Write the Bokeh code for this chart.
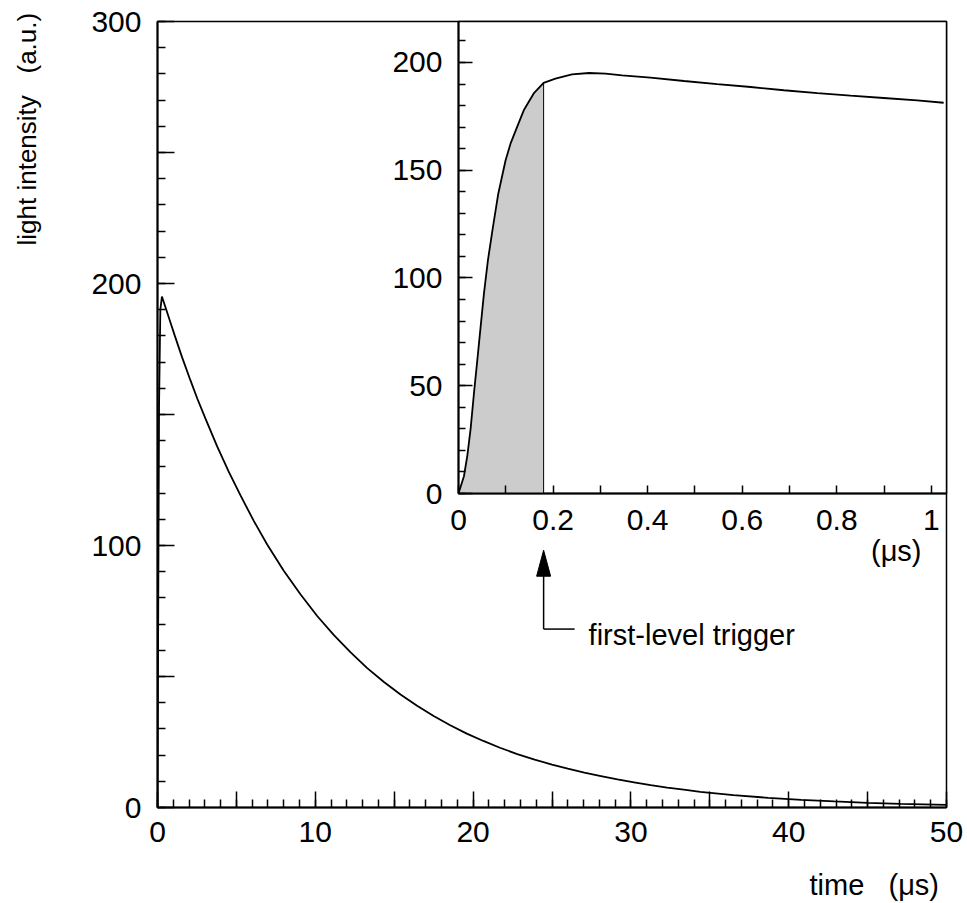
import numpy as np
from bokeh.plotting import figure
from bokeh.models import FixedTicker, Range1d, Label, Title
from bokeh.layouts import column
from bokeh.embed import file_html
from bokeh.resources import INLINE

# ---------------- data ----------------
main_time_us = [0, 0.05, 0.1, 0.18, 0.28, 0.5, 0.8, 1.1, 1.56, 2.09, 2.52, 3.04, 3.78,
                4.52, 5.26, 6.1, 6.95, 8.0, 9.07, 10.12, 11.18, 12.24, 13.29, 14.35,
                15.4, 16.45, 17.5, 18.55, 19.6, 20.65, 21.7, 22.8, 23.9, 25.0, 26.0,
                27.05, 28.1, 29.15, 30.2, 31.25, 32.3, 33.35, 34.4, 36.5, 38.7, 40.8,
                42.9, 45.0, 47.1, 50.0]
main_intensity = [0, 82, 154, 190, 195, 191, 185.5, 180, 171.8, 163.0, 156.1, 148.4,
                  137.8, 128.1, 119.1, 109.4, 100.4, 90.4, 81.3, 73.1, 65.8, 59.2,
                  53.2, 47.9, 43.1, 38.8, 34.9, 31.4, 28.2, 25.4, 22.8, 20.4, 18.3,
                  16.4, 14.8, 13.3, 12.0, 10.7, 9.6, 8.5, 7.6, 6.8, 6.0, 4.7, 3.7,
                  2.9, 2.3, 1.8, 1.4, 1.0]

inset_time_us = [0, 0.0115, 0.0186, 0.0256, 0.0326, 0.0397, 0.0467, 0.0538, 0.0622,
                 0.0728, 0.0841, 0.0996, 0.110, 0.124, 0.138, 0.159, 0.18, 0.205,
                 0.240, 0.276, 0.311, 0.346, 0.406, 0.477, 0.547, 0.618, 0.688,
                 0.759, 0.829, 0.899, 0.970, 1.026]
inset_intensity = [0, 8, 17.5, 30, 46.3, 61.7, 77.2, 92.7, 108.2, 123.6, 139.1,
                   154.6, 162.3, 170.1, 177.8, 185.6, 190.5, 192.5, 194.5, 195.1,
                   194.8, 194.0, 193.0, 191.4, 189.9, 188.6, 187.1, 185.8, 184.6,
                   183.5, 182.4, 181.3]

trigger_time_us = 0.18

main_x_ticks = [0, 5, 10, 15, 20, 25, 30, 35, 40, 45, 50]
main_x_tick_labels = ["0", "", "10", "", "20", "", "30", "", "40", "", "50"]
main_x_minor = list(range(0, 51))
main_y_ticks = [0, 50, 100, 150, 200, 250, 300]
main_y_tick_labels = ["0", "", "100", "", "200", "", "300"]
main_y_minor = list(range(0, 301, 10))

inset_x_ticks = [0, 0.1, 0.2, 0.3, 0.4, 0.5, 0.6, 0.7, 0.8, 0.9, 1]
inset_x_tick_labels = ["0", "", "0.2", "", "0.4", "", "0.6", "", "0.8", "", "1"]
inset_y_ticks = [0, 50, 100, 150, 200]
inset_y_tick_labels = ["0", "50", "100", "150", "200"]
inset_y_minor = list(range(0, 220, 10))

x_title = "time" + "\u00a0" * 3 + "(μs)"
y_title = "light intensity" + "\u00a0" * 3 + "(a.u.)"

# ---------------- layout constants ----------------
FONT = "Liberation Sans"
FS = "30px"
NB = "\u00a0"
MAIN_W, MAIN_H = 967, 903
MAIN_BL, MAIN_BR, MAIN_BT, MAIN_BB = 157, 21, 21, 96
INSET_SHIFT_X = 301
INSET_W = MAIN_W - INSET_SHIFT_X
INSET_BL, INSET_BR, INSET_BT, INSET_BB = MAIN_BL, MAIN_BR, MAIN_BT, 100
INSET_FRAME_H = 472
INSET_H = INSET_BT + INSET_FRAME_H + INSET_BB
INSET_XMAX, INSET_YMAX = 1.032, 219
# axis titles are centred by Bokeh; leading padding pushes the visible words to the far end
X_TITLE_PAD, Y_TITLE_PAD = 80, 79

main_px_per_us = (MAIN_W - MAIN_BL - MAIN_BR) / 50.0
main_px_per_unit = (MAIN_H - MAIN_BT - MAIN_BB) / 300.0
inset_px_per_us = (INSET_W - INSET_BL - INSET_BR) / INSET_XMAX


def style_axis(ax, ticks, labels, minor, major_len, minor_len, standoff):
    ax.ticker = FixedTicker(ticks=ticks, minor_ticks=minor)
    ax.major_label_overrides = {t: l for t, l in zip(ticks, labels)}
    ax.major_tick_in = major_len
    ax.major_tick_out = 0
    ax.minor_tick_in = minor_len
    ax.minor_tick_out = 0
    ax.axis_line_width = 2
    ax.axis_line_color = "black"
    ax.major_tick_line_width = 1.5
    ax.minor_tick_line_width = 1.5
    ax.major_tick_line_color = "black"
    ax.minor_tick_line_color = "black"
    ax.major_label_text_font = FONT
    ax.major_label_text_font_size = FS
    ax.major_label_text_color = "black"
    ax.major_label_standoff = standoff


def style_title(ax, text, size, standoff):
    ax.axis_label = text
    ax.axis_label_text_font = FONT
    ax.axis_label_text_font_size = size
    ax.axis_label_text_font_style = "normal"
    ax.axis_label_text_color = "black"
    ax.axis_label_standoff = standoff


# ---------------- main figure ----------------
p = figure(width=MAIN_W, height=MAIN_H, x_range=Range1d(0, 50), y_range=Range1d(0, 300),
           output_backend="svg", toolbar_location=None,
           min_border_left=MAIN_BL, min_border_right=MAIN_BR,
           min_border_top=MAIN_BT, min_border_bottom=MAIN_BB)
p.grid.visible = False
p.outline_line_color = "black"
p.outline_line_width = 1.5
p.background_fill_color = "white"
p.border_fill_color = "white"
style_axis(p.xaxis[0], main_x_ticks, main_x_tick_labels, main_x_minor, 16, 8, 14)
style_axis(p.yaxis[0], main_y_ticks, main_y_tick_labels, main_y_minor, 17, 8, 16)

style_title(p.yaxis[0], NB * Y_TITLE_PAD + y_title, "26px", 46)
style_title(p.xaxis[0], NB * X_TITLE_PAD + x_title, "29px", 24)

p.line(main_time_us, main_intensity, line_width=1.8, line_color="black")

# trigger annotation (main-figure coordinates, aligned with the inset's trigger time)
arrow_x = (INSET_SHIFT_X + INSET_BL + trigger_time_us * inset_px_per_us - MAIN_BL) / main_px_per_us
tip_y = 98.2
elbow_y = 68.1
elbow_end_x = arrow_x + 31 / main_px_per_us
text_x = arrow_x + 45 / main_px_per_us
head_len = 26 / main_px_per_unit
head_half = 7 / main_px_per_us

p.segment(x0=[arrow_x, arrow_x], y0=[elbow_y, elbow_y],
          x1=[arrow_x, elbow_end_x], y1=[tip_y - head_len + 1, elbow_y],
          line_color="black", line_width=1.5)
p.patch(x=[arrow_x - head_half, arrow_x, arrow_x + head_half],
        y=[tip_y - head_len, tip_y, tip_y - head_len],
        fill_color="black", line_color="black", line_width=1)
p.add_layout(Label(x=text_x, y=elbow_y, y_offset=-6, text="first-level trigger",
                   text_align="left", text_baseline="alphabetic", text_font=FONT,
                   text_font_size="29px", text_color="black"))

# ---------------- inset figure ----------------
q = figure(width=INSET_W, height=INSET_H, x_range=Range1d(0, INSET_XMAX),
           y_range=Range1d(0, INSET_YMAX), output_backend="svg", toolbar_location=None,
           min_border_left=INSET_BL, min_border_right=INSET_BR,
           min_border_top=INSET_BT, min_border_bottom=INSET_BB,
           margin=(-MAIN_H, 0, 0, INSET_SHIFT_X))
q.grid.visible = False
q.outline_line_color = "black"
q.outline_line_width = 1.5
q.background_fill_color = "white"
q.border_fill_color = None
style_axis(q.xaxis[0], inset_x_ticks, inset_x_tick_labels, [], 8, 0, 16)
style_axis(q.yaxis[0], inset_y_ticks, inset_y_tick_labels, inset_y_minor, 14, 7, 16)

fill_t = [t for t in inset_time_us if t <= trigger_time_us]
fill_v = [v for t, v in zip(inset_time_us, inset_intensity) if t <= trigger_time_us]
q.varea(x=fill_t, y1=[0] * len(fill_t), y2=fill_v, fill_color="#cccccc")
trig_v = float(np.interp(trigger_time_us, inset_time_us, inset_intensity))
q.segment(x0=[trigger_time_us], y0=[0], x1=[trigger_time_us], y1=[trig_v],
          line_color="black", line_width=1)
q.line(inset_time_us, inset_intensity, line_width=1.8, line_color="black")

q.add_layout(Title(text="(μs)", align="right", offset=25, standoff=0,
                   text_font=FONT, text_font_size="29px", text_font_style="normal",
                   text_color="black"), "below")

layout = column(p, q)
open("out.html", "w").write(file_html(layout, INLINE))
